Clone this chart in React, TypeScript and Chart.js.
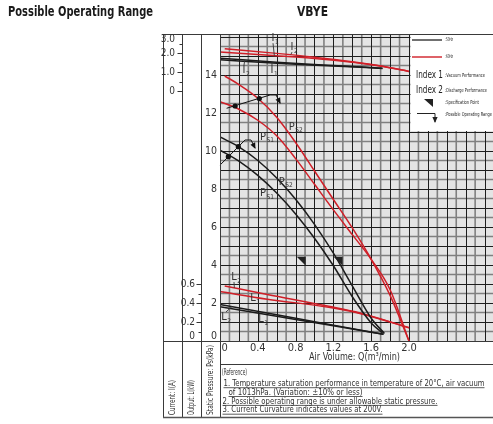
import { useEffect, useRef } from 'react';
import { Chart, registerables } from 'chart.js';

Chart.register(...registerables);

// ---------------- data ----------------
// Air volume ticks (m³/min)
const xTicks = [0, 0.4, 0.8, 1.2, 1.6, 2.0];
const xTickLabels = ['0', '0.4', '0.8', '1.2', '1.6', '2.0'];
// Static pressure ticks (kPa)
const pressureTicks = [0, 2, 4, 6, 8, 10, 12, 14];
// Current ticks (A)
const currentTicks = [0, 1, 2, 3];
const currentTickLabels = ['0', '1.0', '2.0', '3.0'];
// Output ticks (kW)
const outputTicks = [0, 0.2, 0.4, 0.6];
const outputTickLabels = ['0', '0.2', '0.4', '0.6'];

// Static pressure curves, 50Hz (black)
const ps1_50Q = [0, 0.2, 0.4, 0.6, 0.8, 1.0, 1.2, 1.4, 1.6, 1.72];
const ps1_50P = [10.05, 9.47, 8.72, 7.79, 6.69, 5.41, 3.96, 2.33, 0.95, 0.42];
const ps2_50Q = [0, 0.2, 0.4, 0.6, 0.8, 1.0, 1.2, 1.4, 1.6, 1.74];
const ps2_50P = [10.74, 10.22, 9.5, 8.58, 7.46, 6.14, 4.62, 2.9, 1.2, 0.4];
// Static pressure curves, 60Hz (red)
const ps1_60Q = [0, 0.2, 0.4, 0.6, 0.8, 1.0, 1.2, 1.4, 1.6, 1.8, 2.0];
const ps1_60P = [12.6, 12.2, 11.62, 10.8, 9.6, 8.25, 6.9, 5.6, 4.3, 2.7, 0];
const ps2_60Q = [0.05, 0.2, 0.4, 0.6, 0.8, 1.0, 1.2, 1.4, 1.6, 1.8, 2.0];
const ps2_60P = [13.95, 13.5, 12.78, 11.78, 10.45, 8.95, 7.45, 5.95, 4.3, 2.4, 0];

// Current curves (A)
const i1_50Q = [0, 0.6, 1.2, 1.72];
const i1_50 = [1.66, 1.48, 1.34, 1.21];
const i2_50Q = [0, 0.6, 1.2, 1.72];
const i2_50 = [1.75, 1.53, 1.36, 1.22];
const i1_60Q = [0, 0.6, 1.0, 1.4, 1.7, 2.0];
const i1_60 = [2.07, 1.87, 1.73, 1.53, 1.33, 1.05];
const i2_60Q = [0.05, 0.6, 1.0, 1.4, 1.7, 2.0];
const i2_60 = [2.24, 2.0, 1.8, 1.56, 1.34, 1.05];

// Output curves (kW)
const l1_50Q = [0, 0.6, 1.2, 1.73];
const l1_50 = [0.36, 0.26, 0.16, 0.07];
const l2_50Q = [0, 0.6, 1.2, 1.73];
const l2_50 = [0.385, 0.276, 0.167, 0.07];
const l1_60Q = [0, 0.5, 1.15, 1.48, 2.0];
const l1_60 = [0.52, 0.44, 0.355, 0.29, 0.14];
const l2_60Q = [0.05, 0.5, 1.15, 1.48, 2.0];
const l2_60 = [0.58, 0.49, 0.365, 0.295, 0.14];

// Specification points (Q, P)
const specQ = [0.86, 1.25];
const specP = [4.2, 4.2];

// Possible operating range lines (Q, P) and their points
const range50Q = [0, 0.265];
const range50P = [9.26, 10.58];
const range50DotQ = [0.088, 0.194];
const range50DotP = [9.7, 10.23];
const range60Q = [0.07, 0.53];
const range60P = [12.25, 12.95];
const range60DotQ = [0.16, 0.416];
const range60DotP = [12.37, 12.76];

// Curve labels: [main, subscript, axis, Q, value, leaderQ, leaderValue]
const curveLabels: [string, string, string, number, number, number | null, number | null][] = [
  ['I', '2', 'yI', 0.254, 1.12, 0.262, 1.66],
  ['I', '1', 'yI', 0.55, 1.12, 0.55, 1.49],
  ['I', '1', 'yI', 0.561, 2.8, 0.575, 1.88],
  ['I', '2', 'yI', 0.762, 2.33, 0.75, 1.94],
  ['P', 'S2', 'y', 0.759, 11.28, null, null],
  ['P', 'S1', 'y', 0.455, 10.75, null, null],
  ['P', 'S2', 'y', 0.653, 8.38, null, null],
  ['P', 'S1', 'y', 0.455, 7.79, null, null],
  ['L', '2', 'yL', 0.148, 0.674, 0.152, 0.56],
  ['L', '1', 'yL', 0.349, 0.453, null, null],
  ['L', '2', 'yL', 0.042, 0.253, 0.127, 0.363],
  ['L', '1', 'yL', 0.434, 0.232, null, null],
];

// ---------------- scale relations ----------------
const X_MAX = 2.889; // grid continues past 2.0 to the right edge
const P_MAX = 16.16;
const I_ZERO = 13.14; // 0 A sits at 13.14 kPa on the shared grid (1 A per kPa)
const L_PER_KPA = 0.2; // 0.2 kW per kPa on the shared grid

const RED = '#d01f28';
const BLACK = '#1b1b1b';
const FONT = '"Liberation Sans Narrow","DejaVu Sans Condensed","Arial Narrow",sans-serif';

function fitText(ctx: any, text: string, x: number, y: number, w: number, font: string, align = 'left') {
  ctx.font = font;
  const m = ctx.measureText(text).width || 1;
  ctx.save();
  const x0 = align === 'left' ? x : align === 'center' ? x - w / 2 : x - w;
  ctx.translate(x0, y);
  ctx.scale(w / m, 1);
  ctx.textAlign = 'left';
  ctx.fillText(text, 0, 0);
  ctx.restore();
}

function seg(ctx: any, x0: number, y0: number, x1: number, y1: number) {
  ctx.beginPath();
  ctx.moveTo(x0, y0);
  ctx.lineTo(x1, y1);
  ctx.stroke();
}

function arrow(ctx: any, x0: number, y0: number, x1: number, y1: number) {
  seg(ctx, x0, y0, x1, y1);
  const a = Math.atan2(y1 - y0, x1 - x0);
  const len = 5;
  const hw = 2.6;
  ctx.beginPath();
  ctx.moveTo(x1 + Math.cos(a) * 1, y1 + Math.sin(a) * 1);
  ctx.lineTo(x1 - Math.cos(a) * len - Math.sin(a) * hw, y1 - Math.sin(a) * len + Math.cos(a) * hw);
  ctx.lineTo(x1 - Math.cos(a) * len + Math.sin(a) * hw, y1 - Math.sin(a) * len - Math.cos(a) * hw);
  ctx.closePath();
  ctx.fill();
}

const gridPlugin = {
  id: 'gridPlugin',
  beforeDatasetsDraw(chart: any) {
    const { ctx, chartArea: a, scales } = chart;
    ctx.save();
    ctx.fillStyle = '#e4e4e4';
    ctx.fillRect(a.left, a.top, a.right - a.left, a.bottom - a.top);
    const vx: number[] = [];
    for (let k = 0; k * 0.1 <= X_MAX + 1e-9; k++) vx.push(k);
    const hy: number[] = [];
    for (let k = 0; k * 0.5 <= P_MAX + 1e-9; k++) hy.push(k);
    // grey thicker lines
    ctx.strokeStyle = '#808080';
    ctx.lineWidth = 1.6;
    vx.filter((k) => k % 2 === 1).forEach((k) => {
      const px = scales.x.getPixelForValue(k * 0.1);
      seg(ctx, px, a.top, px, a.bottom);
    });
    hy.filter((k) => k % 2 === 1).forEach((k) => {
      const py = scales.y.getPixelForValue(k * 0.5);
      seg(ctx, a.left, py, a.right, py);
    });
    // dark thin lines
    ctx.strokeStyle = '#1e1e1e';
    ctx.lineWidth = 1;
    vx.filter((k) => k % 2 === 0).forEach((k) => {
      const px = Math.round(scales.x.getPixelForValue(k * 0.1)) + 0.5;
      seg(ctx, px, a.top, px, a.bottom);
    });
    hy.filter((k) => k % 2 === 0).forEach((k) => {
      const py = Math.round(scales.y.getPixelForValue(k * 0.5)) + 0.5;
      seg(ctx, a.left, py, a.right, py);
    });
    ctx.restore();
  },
};

const overlayPlugin = {
  id: 'overlayPlugin',
  afterDatasetsDraw(chart: any) {
    const { ctx, chartArea: a, scales } = chart;
    const sx = scales.x;
    const sy = scales.y;
    const sI = scales.yI;
    const sL = scales.yL;
    ctx.save();

    // ---- legend box ----
    const legLeft = sx.getPixelForValue(2.0) + 1.5;
    const legBottom = 131;
    ctx.fillStyle = '#ffffff';
    ctx.fillRect(legLeft, a.top, a.right - legLeft, legBottom - a.top);
    ctx.fillStyle = '#222';
    ctx.textBaseline = 'middle';
    ctx.lineWidth = 1.4;
    ctx.strokeStyle = '#333';
    seg(ctx, 412, 40, 442, 40);
    ctx.strokeStyle = RED;
    seg(ctx, 412, 57, 442, 57);
    fitText(ctx, ':50Hz', 445, 40, 8, `5px ${FONT}`);
    fitText(ctx, ':60Hz', 445, 57, 8, `5px ${FONT}`);
    fitText(ctx, 'Index 1', 416, 75.5, 27, `10px ${FONT}`);
    fitText(ctx, ':Vacuum Performance', 445, 75.5, 40, `5.5px ${FONT}`);
    fitText(ctx, 'Index 2', 416, 90.5, 27, `10px ${FONT}`);
    fitText(ctx, ':Discharge Performance', 445, 90.5, 42, `5.5px ${FONT}`);
    ctx.beginPath();
    ctx.moveTo(424, 99);
    ctx.lineTo(433, 99);
    ctx.lineTo(433, 107);
    ctx.closePath();
    ctx.fill();
    fitText(ctx, ':Specification Point', 445, 103, 34, `5.5px ${FONT}`);
    ctx.strokeStyle = '#222';
    ctx.lineWidth = 1;
    seg(ctx, 417, 113.5, 435, 113.5);
    arrow(ctx, 435, 113.5, 435, 122);
    fitText(ctx, ':Possible Operating Range', 445, 115, 47, `5.5px ${FONT}`);

    // ---- specification points ----
    ctx.fillStyle = '#222';
    specQ.forEach((q, i) => {
      const cx = sx.getPixelForValue(q);
      const cy = sy.getPixelForValue(specP[i]);
      ctx.beginPath();
      ctx.moveTo(cx - 4.5, cy - 4.5);
      ctx.lineTo(cx + 4.5, cy - 4.5);
      ctx.lineTo(cx + 4.5, cy + 4.5);
      ctx.closePath();
      ctx.fill();
    });

    // ---- operating ranges ----
    const drawRange = (qs: number[], ps: number[], dq: number[], dp: number[]) => {
      const x0 = sx.getPixelForValue(qs[0]);
      const y0 = sy.getPixelForValue(ps[0]);
      const x1 = sx.getPixelForValue(qs[1]);
      const y1 = sy.getPixelForValue(ps[1]);
      ctx.strokeStyle = '#111';
      ctx.fillStyle = '#111';
      ctx.lineWidth = 1;
      seg(ctx, x0, y0, x1, y1);
      seg(ctx, x1, y1, x1 + 6, y1);
      arrow(ctx, x1 + 6, y1, x1 + 10, y1 + 8);
      dq.forEach((q, i) => {
        ctx.beginPath();
        ctx.arc(sx.getPixelForValue(q), sy.getPixelForValue(dp[i]), 2.6, 0, Math.PI * 2);
        ctx.fill();
      });
    };
    drawRange(range50Q, range50P, range50DotQ, range50DotP);
    drawRange(range60Q, range60P, range60DotQ, range60DotP);

    // ---- curve labels ----
    const axisOf: any = { y: sy, yI: sI, yL: sL };
    curveLabels.forEach(([t, sub, ax, q, v, lq, lv]) => {
      const s = axisOf[ax];
      const px = sx.getPixelForValue(q);
      const py = s.getPixelForValue(v);
      ctx.fillStyle = '#333';
      ctx.strokeStyle = '#333';
      ctx.lineWidth = 0.9;
      ctx.textBaseline = 'middle';
      ctx.textAlign = 'center';
      ctx.font = `11px ${FONT}`;
      ctx.fillText(t, px, py);
      const w = ctx.measureText(t).width;
      ctx.textAlign = 'left';
      ctx.font = `6.5px ${FONT}`;
      ctx.fillText(sub, px + w / 2 + 0.5, py + 4);
      if (lq !== null && lv !== null) {
        const ex = sx.getPixelForValue(lq);
        const ey = s.getPixelForValue(lv);
        const sy0 = ey < py ? py - 5 : py + 5;
        seg(ctx, px + (ex > px + 3 ? 2 : 0), sy0, ex, ey);
      }
    });

    // ---- frame ----
    const cols = [163, 182, 201];
    const bottomY = 417.5;
    const sepY = 364.5;
    ctx.strokeStyle = '#3a3a3a';
    ctx.lineWidth = 1;
    cols.forEach((c) => seg(ctx, c + 0.5, a.top, c + 0.5, bottomY));
    seg(ctx, a.left + 0.5, a.top, a.left + 0.5, bottomY);
    seg(ctx, 163, a.top + 0.5, a.right, a.top + 0.5);
    ctx.lineWidth = 1.2;
    seg(ctx, 163, a.bottom + 0.5, a.right, a.bottom + 0.5);
    ctx.lineWidth = 1;
    seg(ctx, a.left, sepY, a.right, sepY);
    ctx.strokeStyle = '#555';
    ctx.lineWidth = 1.6;
    seg(ctx, 163, bottomY, a.right, bottomY);

    // ---- axis ticks & labels ----
    ctx.fillStyle = '#333';
    ctx.strokeStyle = '#333';
    ctx.lineWidth = 1;
    ctx.textBaseline = 'middle';
    // pressure
    ctx.font = `10.5px ${FONT}`;
    ctx.textAlign = 'right';
    pressureTicks.forEach((p) => {
      const py = Math.min(sy.getPixelForValue(p), a.bottom - 5);
      ctx.fillText(String(p), 217, py);
    });
    // current
    for (let v = 0; v <= 3.001; v += 0.5) {
      const py = Math.round(sI.getPixelForValue(v)) + 0.5;
      const len = Math.abs(v - Math.round(v)) < 1e-6 ? 5 : 3;
      seg(ctx, 182.5 - len, py, 182.5, py);
    }
    ctx.font = `10px ${FONT}`;
    currentTicks.forEach((v, i) => {
      const py = Math.max(sI.getPixelForValue(v), a.top + 5.5);
      ctx.fillText(currentTickLabels[i], 175, py);
    });
    // output
    for (let k = 0; k <= 6; k++) {
      const py = Math.round(sL.getPixelForValue(k * 0.1)) + 0.5;
      const len = k % 2 === 0 ? 5 : 3;
      seg(ctx, 201.5 - len, py, 201.5, py);
    }
    outputTicks.forEach((v, i) => {
      const py = Math.min(sL.getPixelForValue(v), a.bottom - 5);
      ctx.fillText(outputTickLabels[i], 195, py);
    });
    // air volume
    ctx.font = `11px ${FONT}`;
    xTicks.forEach((q, i) => {
      const px = sx.getPixelForValue(q);
      ctx.textAlign = i === 0 ? 'left' : 'center';
      ctx.fillText(xTickLabels[i], i === 0 ? px + 1.5 : px, 348);
    });
    ctx.fillStyle = '#333';
    fitText(ctx, 'Air Volume: Q(m³/min)', 309, 357.5, 91, `11px ${FONT}`);

    // rotated axis titles
    const rot = (text: string, cx: number, len: number) => {
      ctx.save();
      ctx.translate(cx, 415);
      ctx.rotate(-Math.PI / 2);
      ctx.textBaseline = 'middle';
      fitText(ctx, text, 0, 0, len, `9px ${FONT}`);
      ctx.restore();
    };
    rot('Current: I(A)', 172.5, 35);
    rot('Output: L(kW)', 191.5, 35);
    rot('Static Pressure: Ps(kPa)', 210.5, 70);

    // reference notes
    const notes: [string, number, number, number, boolean][] = [
      ['(Reference)', 222, 373, 25, false],
      ['1. Temperature saturation performance in temperature of 20°C, air vacuum', 223.5, 383.5, 261, true],
      ['of 1013hPa. (Variation: ±10% or less)', 228.5, 392.3, 134, true],
      ['2. Possible operating range is under allowable static pressure.', 222.5, 401.2, 215, true],
      ['3. Current Curvature indicates values at 200V.', 222.5, 410, 160, true],
    ];
    ctx.lineWidth = 0.8;
    notes.forEach(([t, x, y, w, u]) => {
      ctx.textBaseline = 'middle';
      fitText(ctx, t, x, y, w, `9px ${FONT}`);
      if (u) seg(ctx, x, y + 4.2, x + w, y + 4.2);
    });

    // titles
    ctx.fillStyle = '#1a1a1a';
    ctx.textBaseline = 'middle';
    fitText(ctx, 'Possible Operating Range', 8, 12, 145, `bold 13.5px ${FONT}`);
    fitText(ctx, 'VBYE', 297, 12, 31, `bold 13.5px ${FONT}`);

    ctx.restore();
  },
};

function series(label: string, qs: number[], vs: number[], color: string, axis: string) {
  return {
    label,
    data: qs.map((q, i) => ({ x: q, y: vs[i] })),
    borderColor: color,
    backgroundColor: color,
    borderWidth: 1.5,
    pointRadius: 0,
    fill: false,
    cubicInterpolationMode: 'monotone' as const,
    yAxisID: axis,
  };
}

export default function App() {
  const ref = useRef<HTMLCanvasElement>(null);
  useEffect(() => {
    const canvas = ref.current;
    if (!canvas) return;
    const chart = new Chart(canvas, {
      type: 'line',
      data: {
        datasets: [
          series('Ps1 50Hz', ps1_50Q, ps1_50P, BLACK, 'y'),
          series('Ps2 50Hz', ps2_50Q, ps2_50P, BLACK, 'y'),
          series('Ps1 60Hz', ps1_60Q, ps1_60P, RED, 'y'),
          series('Ps2 60Hz', ps2_60Q, ps2_60P, RED, 'y'),
          series('I1 50Hz', i1_50Q, i1_50, BLACK, 'yI'),
          series('I2 50Hz', i2_50Q, i2_50, BLACK, 'yI'),
          series('I1 60Hz', i1_60Q, i1_60, RED, 'yI'),
          series('I2 60Hz', i2_60Q, i2_60, RED, 'yI'),
          series('L1 50Hz', l1_50Q, l1_50, BLACK, 'yL'),
          series('L2 50Hz', l2_50Q, l2_50, BLACK, 'yL'),
          series('L1 60Hz', l1_60Q, l1_60, RED, 'yL'),
          series('L2 60Hz', l2_60Q, l2_60, RED, 'yL'),
        ] as any,
      },
      options: {
        animation: false,
        responsive: false,
        devicePixelRatio: 1,
        events: [],
        layout: { padding: { left: 220, right: 0, top: 34, bottom: 83 } },
        plugins: { legend: { display: false }, tooltip: { enabled: false } },
        scales: {
          x: { type: 'linear', min: 0, max: X_MAX, display: false },
          y: { type: 'linear', min: 0, max: P_MAX, display: false },
          yI: { type: 'linear', min: -I_ZERO, max: P_MAX - I_ZERO, display: false },
          yL: { type: 'linear', min: 0, max: P_MAX * L_PER_KPA, display: false },
        },
      } as any,
      plugins: [gridPlugin, overlayPlugin],
    });
    return () => chart.destroy();
  }, []);
  return (
    <div style={{ position: 'absolute', left: 0, top: 0, width: 493, height: 424, background: '#fff' }}>
      <canvas ref={ref} width={493} height={424} style={{ display: 'block' }} />
    </div>
  );
}
